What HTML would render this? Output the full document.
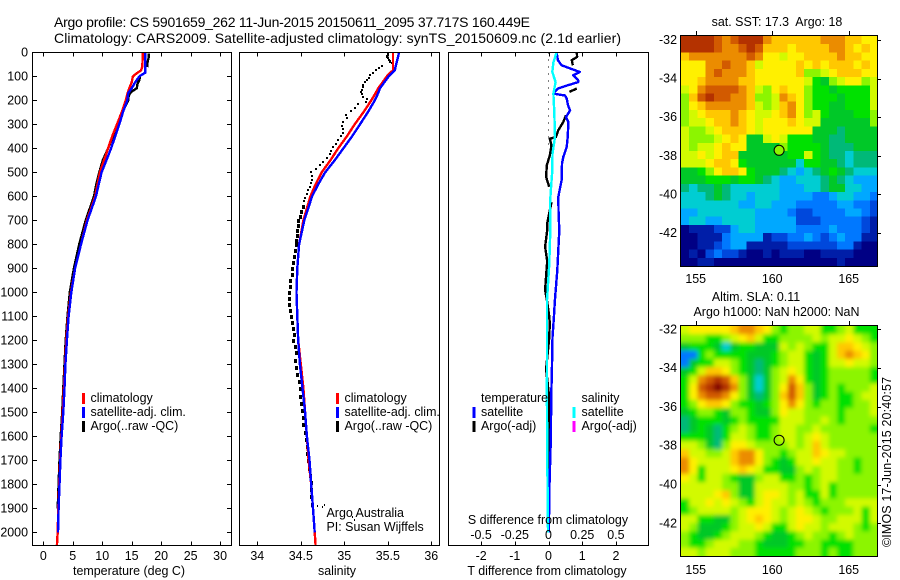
<!DOCTYPE html>
<html lang="en">
<head>
<meta charset="utf-8">
<title>Argo profile</title>
<style>
html,body{margin:0;padding:0;background:#fff;}
svg{display:block;}
text{font-family:"Liberation Sans",sans-serif;font-size:12.45px;fill:#000;}
.t14{font-size:14px;}
</style>
</head>
<body>
<svg id="chart" width="900" height="580" viewBox="0 0 900 580" xmlns="http://www.w3.org/2000/svg">
<defs>
<filter id="soft" x="-10%" y="-10%" width="120%" height="120%"><feGaussianBlur stdDeviation="2"/></filter>
<clipPath id="clipSst"><rect x="681" y="36" width="197" height="230"/></clipPath>
<clipPath id="clipSla"><rect x="681" y="326" width="197" height="230"/></clipPath>
</defs>
<text class="t14" x="54" y="27" textLength="476" lengthAdjust="spacing">Argo profile: CS 5901659_262 11-Jun-2015 20150611_2095 37.717S 160.449E</text>
<text class="t14" x="54" y="43" textLength="567" lengthAdjust="spacing">Climatology: CARS2009. Satellite-adjusted climatology: synTS_20150609.nc (2.1d earlier)</text>

<g id="marksT"></g>
<g id="marksS"></g>
<g id="marksD"></g>

<text x="129" y="575" text-anchor="middle">temperature (deg C)</text>
<text x="337" y="575" text-anchor="middle">salinity</text>
<text x="547" y="575" text-anchor="middle">T difference from climatology</text>
<text x="548" y="524" text-anchor="middle">S difference from climatology</text>

<text x="90.5" y="402">climatology</text>
<text x="90.5" y="416">satellite-adj. clim.</text>
<text x="90.5" y="430">Argo(..raw -QC)</text>
<text x="344.5" y="402">climatology</text>
<text x="344.5" y="416">satellite-adj. clim.</text>
<text x="344.5" y="430">Argo(..raw -QC)</text>
<text x="481" y="402">temperature</text>
<text x="581.5" y="402">salinity</text>
<text x="481" y="416">satellite</text>
<text x="481" y="430">Argo(-adj)</text>
<text x="581.5" y="416">satellite</text>
<text x="581.5" y="430">Argo(-adj)</text>
<text x="326.5" y="517">Argo Australia</text>
<text x="326.5" y="531">PI: Susan Wijffels</text>

<g id="mapSst"></g>
<g id="mapSla"></g>
<text x="777" y="26" text-anchor="middle">sat. SST: 17.3&#160; Argo: 18</text>
<text x="756" y="301" text-anchor="middle">Altim. SLA: 0.11</text>
<text x="776.5" y="316" text-anchor="middle">Argo h1000: NaN h2000: NaN</text>
<text transform="translate(891 547) rotate(-90)" textLength="170">©IMOS 17-Jun-2015 20:40:57</text>
</svg>

<script>
// ---- profile data -------------------------------------------------------
const depthLevels = [0,30,60,75,85,100,125,150,170,200,250,300,350,400,450,500,550,600,700,800,900,1000,1100,1200,1300,1400,1500,1600,1700,1800,1900,2000,2055];
const climTemp = [16.9,16.85,16.8,16.6,16.0,15.2,15.0,14.6,14.3,14.0,13.3,12.5,11.7,11.0,10.3,9.6,9.2,8.8,7.4,6.4,5.4,4.7,4.2,3.9,3.7,3.5,3.3,3.05,2.85,2.7,2.55,2.45,2.3];
const satTemp = [17.3,17.3,17.3,17.3,17.3,16.3,15.6,15.0,14.4,14.25,13.5,12.9,12.2,11.5,10.7,9.9,9.4,8.95,7.5,6.4,5.4,4.75,4.3,4.0,3.75,3.6,3.4,3.1,2.9,2.75,2.6,2.5,null];
const climSal = [35.56,35.56,35.56,35.56,35.53,35.49,35.44,35.39,35.36,35.31,35.22,35.12,35.03,34.93,34.84,34.74,34.67,34.61,34.53,34.48,34.46,34.45,34.46,34.47,34.50,34.53,34.55,34.57,34.59,34.62,34.64,34.66,34.67];
const satSal = [35.63,35.61,35.59,35.58,35.55,35.51,35.46,35.41,35.39,35.35,35.27,35.18,35.09,34.99,34.89,34.78,34.70,34.63,34.54,34.48,34.46,34.45,34.46,34.47,34.49,34.52,34.55,34.57,34.60,34.62,34.64,34.66,null];

const argoTempDepth = [4,20,40,62,75,100,115,130,150,165,180,200,250,300,350,400,450,500,550,600,700,800,900,1000,1100,1200,1300,1400,1500,1600,1700,1800,1900];
const argoTemp = [17.9,17.9,17.7,17.65,null,16.4,16.3,16.0,15.85,14.9,14.5,14.4,13.4,12.7,11.8,11.0,10.1,9.5,9.0,8.6,7.2,6.1,5.2,4.5,4.1,3.8,3.6,3.4,3.2,2.95,2.75,2.6,2.45];

const argoSalDepth = [5,10,15,20,25,30,35,40,45,58,65,75,85,95,105,115,125,135,145,155,165,175,185,195,205,215,230,245,260,275,290,305,320,335,350,365,380,395,410,425,440,455,470,485,500,515,530,545,560,575,590,605,620,640,660,680,700,720,740,760,780,800,825,850,875,900,925,950,975,1000,1025,1050,1075,1100,1125,1150,1175,1200,1225,1250,1280,1310,1340,1370,1400,1430,1460,1490,1520,1550,1580,1610,1640,1670,1700,1730,1760,1790,1820,1850,1880,1890,1893,1888,1935,1950];
const argoSal = [35.50,35.50,35.49,35.49,35.50,35.51,35.52,35.53,35.55,35.43,35.40,35.36,35.33,35.30,35.28,35.26,35.24,35.22,35.21,35.20,35.19,35.20,35.22,35.26,35.25,35.16,35.12,35.08,35.02,35.03,34.98,34.97,34.98,34.99,34.96,34.93,34.90,34.87,34.85,34.83,34.80,34.76,34.72,34.67,34.62,34.63,34.63,34.62,34.60,34.58,34.57,34.55,34.54,34.52,34.50,34.49,34.47,34.47,34.46,34.46,34.45,34.44,34.43,34.42,34.41,34.40,34.40,34.38,34.38,34.37,34.37,34.37,34.38,34.39,34.40,34.41,34.42,34.41,34.43,34.44,34.43,34.44,34.46,34.48,34.49,34.49,34.50,34.51,34.52,34.53,34.55,34.56,34.57,34.57,34.58,34.59,34.60,34.62,34.62,34.62,34.63,34.70,34.75,34.78,35.10,35.12];

const satDiffDepth = [0,33,54,82,96,117,124,137,151,172,180,192,221,242,270,290,353,395,436,464,533,603,672,742,908,1033,1104,1187,1325,1437,1600,1800,2000];
const satTempDiff = [0.24,0.28,0.39,0.93,0.73,0.88,0.88,0.58,0.28,0.14,0.49,0.54,0.58,0.64,0.52,0.59,0.57,0.54,0.44,0.40,0.39,0.29,0.30,0.32,0.26,0.19,0.16,0.12,0.10,0.08,0.07,0.03,0.01];

const argoDiffDepth = [0,19,33,54,100,151,165,200,262,290,325,353,360,388,429,471,519,561,600,624,672,713,742,810,870,990,1030,1100,1130,1190,1320,1437,1700,1900];
const argoTempDiff = [0.84,0.85,0.69,0.72,null,0.84,0.62,null,0.52,0.44,0.29,0.22,0.04,0.09,0.04,-0.05,-0.07,0.02,null,0.09,0.02,-0.04,-0.04,-0.10,-0.04,-0.10,-0.05,0.02,0.04,0.02,-0.07,0.02,0.0,0.0];

const salDiffDepth = [0,42,82,124,172,250,353,422,492,561,631,742,880,1033,1300,1437,1700,2000];
const satSalDiff = [0.060,0.036,0.028,0.053,0.036,0.043,0.048,0.030,0.028,0.019,0.011,0.013,0.006,-0.011,-0.011,-0.012,-0.009,-0.004];

// ---- axis tick labels ---------------------------------------------------
const depthTicks = [0,100,200,300,400,500,600,700,800,900,1000,1100,1200,1300,1400,1500,1600,1700,1800,1900,2000];
const tempTicks = [0,5,10,15,20,25,30];
const salTicks = [34,34.5,35,35.5,36];
const tDiffTicks = [-2,-1,0,1,2];
const sDiffTicks = [-0.5,-0.25,0,0.25,0.5];
const lonTicks = [155,160,165];
const latTicks = [-32,-34,-36,-38,-40,-42];
const argoLon = [160.449];
const argoLat = [-37.717];
const argoSurfaceLevel = [9];

// ---- map data: colour level per cell, north to south, west to east -----
const sstLevels = [
[15,15,15,15,14,13,14,15,15,15,13,12,12,12,12,12,12,13,13,13,12,12,11,11],
[15,15,15,15,14,13,13,14,15,14,12,12,12,11,12,12,12,12,13,13,12,11,12,11],
[12,13,13,13,13,13,13,13,14,13,11,11,10,11,11,12,12,12,12,13,12,12,11,11],
[11,11,11,13,13,14,13,13,12,10,11,11,11,11,12,11,12,11,12,12,12,11,12,11],
[11,11,11,13,14,13,13,13,12,11,11,11,11,11,12,9,9,10,11,12,12,12,11,11],
[11,11,12,13,13,13,13,12,12,11,11,11,11,11,11,10,8,7,9,10,11,11,9,10],
[10,11,13,14,14,14,14,13,12,10,9,11,12,11,11,9,8,8,7,8,8,8,8,10],
[9,12,14,15,14,14,13,13,12,9,9,10,13,12,11,9,8,8,8,7,8,8,8,10],
[9,11,12,13,13,13,13,13,12,10,9,10,12,13,11,9,8,8,7,7,8,8,8,10],
[9,10,11,12,12,12,13,12,11,10,10,11,12,13,11,9,10,8,7,7,7,8,8,9],
[9,10,10,11,12,12,13,12,11,10,11,11,11,12,11,10,10,7,7,7,7,7,7,9],
[10,9,9,10,11,12,12,12,11,10,11,11,11,11,11,11,7,7,7,6,7,7,7,7],
[10,9,9,9,10,11,12,11,7,7,10,11,10,8,8,8,7,7,6,6,7,7,7,7],
[10,9,10,10,11,12,11,11,7,7,7,7,9,8,8,8,8,7,6,6,6,7,7,7],
[10,10,11,10,11,12,12,7,7,7,7,7,7,8,8,10,8,7,6,6,5,6,6,6],
[10,10,10,11,12,12,11,8,7,7,7,7,7,7,5,8,8,7,7,6,5,6,6,6],
[7,7,8,9,11,12,12,11,8,7,7,7,6,5,4,5,6,7,8,7,6,5,5,5],
[7,7,7,8,8,8,7,8,8,7,6,5,4,4,5,5,5,6,7,6,5,4,4,4],
[6,5,6,6,7,6,5,5,5,5,5,5,4,4,4,5,5,6,7,7,5,5,4,4],
[5,5,5,6,7,6,5,5,4,5,5,5,4,4,4,4,3,3,4,5,5,4,4,3],
[5,5,5,5,5,5,5,4,4,5,5,4,4,4,3,3,3,3,3,4,4,3,3,2],
[4,4,5,5,5,5,5,5,5,4,4,4,4,3,2,2,3,3,3,3,4,4,3,2],
[4,5,5,4,4,5,5,5,5,4,4,4,4,4,2,2,2,3,3,3,3,3,2,1],
[0,1,1,1,2,2,4,5,5,4,4,4,4,4,3,3,3,3,4,3,3,3,2,1],
[0,0,1,1,1,3,4,4,4,4,1,2,2,3,3,4,3,2,3,4,3,3,1,1],
[0,0,1,1,2,3,4,4,1,1,1,1,1,2,2,2,2,2,2,3,3,1,0,0],
[0,1,0,2,3,2,2,1,0,0,1,0,1,1,1,0,0,1,1,1,1,0,0,0],
[0,0,1,1,0,0,0,0,0,0,0,0,0,0,0,0,0,0,0,1,0,0,0,0]
];
const slaLevels = [
[10,11,11,11,11,11,12,13,13,12,11,9,8,9,9,10,10,8,8,9,10,8,8,8],
[9,9,9,8,8,9,10,11,12,10,8,8,9,9,9,9,10,9,10,10,11,10,9,8],
[7,8,8,8,7,5,7,8,8,7,7,7,10,9,10,9,8,8,10,12,12,11,10,9],
[3,3,8,9,8,8,8,8,7,7,7,8,9,10,10,8,7,8,10,12,13,12,11,9],
[3,7,8,8,10,10,9,8,7,6,7,8,9,10,10,8,7,8,10,10,11,10,10,9],
[7,8,10,12,12,11,9,8,7,6,7,9,10,11,10,8,7,8,9,9,9,9,9,8],
[8,10,13,14,15,14,12,9,7,5,7,9,10,13,11,8,7,8,9,9,9,9,9,8],
[8,11,14,15,16,15,13,9,7,5,7,9,11,14,12,9,7,8,9,8,9,9,9,10],
[8,11,13,14,14,13,11,9,7,6,7,9,12,14,12,9,7,8,9,8,8,9,10,10],
[8,9,11,12,12,11,9,8,8,7,8,9,11,13,11,9,8,9,9,8,8,9,9,10],
[7,8,9,9,8,7,9,9,8,7,7,9,11,10,10,9,9,9,9,8,9,9,9,10],
[6,7,8,8,8,7,8,9,8,8,8,8,10,10,10,9,9,10,9,8,9,9,9,9],
[6,7,8,7,6,8,9,10,9,8,8,9,10,10,9,9,10,9,9,9,9,9,9,8],
[8,8,8,7,6,8,10,10,9,8,8,9,10,10,9,10,11,10,9,9,9,9,9,9],
[10,10,9,7,6,9,11,11,10,9,9,9,9,10,9,10,12,10,9,9,9,9,9,9],
[12,10,10,9,9,10,12,13,13,11,9,9,8,9,10,10,12,11,10,10,9,9,9,9],
[13,11,10,10,10,10,12,13,13,11,9,8,7,8,10,10,11,10,10,9,9,8,9,9],
[13,11,8,10,10,10,11,12,11,10,8,8,7,7,9,10,9,10,10,9,9,8,9,9],
[11,10,8,10,10,9,8,7,7,9,10,10,8,8,9,8,9,10,10,9,9,9,9,9],
[10,10,10,10,10,9,9,7,7,10,10,10,10,9,9,8,9,10,8,9,9,9,9,9],
[10,10,10,10,11,12,9,7,7,10,11,11,10,9,10,8,8,10,8,9,9,9,9,9],
[8,10,10,11,10,11,10,9,8,10,11,10,10,9,10,9,8,9,9,9,10,10,10,10],
[8,9,10,10,10,10,9,10,11,11,11,10,9,10,11,10,9,8,9,9,9,10,8,10],
[10,10,8,8,7,7,9,10,11,12,11,10,9,10,11,11,10,9,9,10,10,10,8,10],
[10,9,7,7,7,8,9,10,10,11,10,8,8,10,11,10,10,9,10,10,10,9,8,9],
[9,8,7,7,8,9,10,10,10,9,8,7,7,8,9,10,9,9,8,9,10,9,9,9],
[9,8,8,9,10,10,10,9,9,8,7,7,7,8,8,9,9,8,8,8,8,9,9,9],
[10,10,9,10,10,10,9,9,9,8,8,8,8,8,9,9,9,8,9,8,8,9,9,9]
];
const levelColors = ["#000084","#001ea8","#0048dc","#0078ff","#00a8ff","#00cdd2","#00b978","#00c828","#00e100","#8cf500","#d2fa00","#fff000","#ffc800","#eb8c00","#d25a00","#b43200","#820000"];

// ---- axis functions -----------------------------------------------------
const PANEL_TOP = 52.5, PANEL_BOTTOM = 545.5;
function yDepth(d){ return 52.3 + 0.24 * d; }
function xTemp(t){ return 43.3 + 5.893 * t; }
function xSal(s){ return 257.3 + 87 * (s - 34); }
function xTDiff(v){ return 548.5 + 33.7 * v; }
function xSDiff(v){ return 548.5 + 134.8 * v; }
function xLon(lon){ return 695.7 + 15.3 * (lon - 155); }
function ySstLat(lat){ return 40 + 19.3 * (-32 - lat); }
function ySlaLat(lat){ return 329.3 + 19.4 * (-32 - lat); }

const NS = "http://www.w3.org/2000/svg";
function mk(tag, attrs, parent){
  const el = document.createElementNS(NS, tag);
  for (const k in attrs) el.setAttribute(k, attrs[k]);
  parent.appendChild(el);
  return el;
}
function profilePath(depths, values, xf){
  let d = "", pen = false;
  for (let i = 0; i < depths.length; i++){
    const v = values[i];
    if (v === null || v === undefined){ pen = false; continue; }
    d += (pen ? "L" : "M") + xf(v).toFixed(1) + " " + yDepth(depths[i]).toFixed(1);
    pen = true;
  }
  return d;
}
function drawLine(parent, depths, values, xf, color, name){
  const el = mk("path", {d: profilePath(depths, values, xf), fill: "none", stroke: color, "stroke-width": 2.4, "stroke-linejoin": "round", "shape-rendering": "crispEdges"}, parent);
  
  
}
function drawFrame(parent, left, width, name){
  const el = mk("rect", {x: left, y: PANEL_TOP, width: width, height: PANEL_BOTTOM - PANEL_TOP, fill: "none", stroke: "#000", "stroke-width": 1, "shape-rendering": "crispEdges"}, parent);
  
  
}
function tickLine(parent, x1, y1, x2, y2){
  const el = mk("line", {x1: x1, y1: y1, x2: x2, y2: y2, stroke: "#000", "stroke-width": 1, "shape-rendering": "crispEdges"}, parent);
  
  
}
function tickText(parent, x, y, str, anchor){
  const el = mk("text", {x: x, y: y, "text-anchor": anchor}, parent);
  el.textContent = str;
  
  
}
function legendBar(parent, x, y, color){
  const el = mk("rect", {x: x, y: y, width: 3, height: 11, fill: color}, parent);
  
  
}
function xTicks(parent, ticks, xf, labelY, top, bottom){
  ticks.forEach(function(t){
    const x = Math.round(xf(t)) + 0.5;
    if (top) tickLine(parent, x, PANEL_TOP, x, PANEL_TOP + 4);
    if (bottom) tickLine(parent, x, PANEL_BOTTOM, x, PANEL_BOTTOM - 4);
    tickText(parent, xf(t), labelY, String(t), "middle");
  });
}

// ---- temperature panel --------------------------------------------------
const gT = document.getElementById("marksT");
drawLine(gT, argoTempDepth, argoTemp, xTemp, "#000", "argo-temperature-line");
drawLine(gT, depthLevels, climTemp, xTemp, "#ff0000", "climatology-temperature-line");
drawLine(gT, depthLevels, satTemp, xTemp, "#0000ff", "satellite-temperature-line");
drawFrame(gT, 32.5, 199, "temperature-plot-frame");
xTicks(gT, tempTicks, xTemp, 560, true, true);
depthTicks.forEach(function(d){
  const y = Math.round(yDepth(d)) + 0.5;
  tickLine(gT, 32.5, y, 37, y);
  tickLine(gT, 231.5, y, 227, y);
  tickText(gT, 28, yDepth(d) + 4, String(d), "end");
});
legendBar(gT, 82, 393, "#ff0000");
legendBar(gT, 82, 407, "#0000ff");
legendBar(gT, 82, 421, "#000");

// ---- salinity panel -----------------------------------------------------
const gS = document.getElementById("marksS");
argoSalDepth.forEach(function(d, i){
  const deep = d > 620 && d < 1885;
  const stray = d >= 1885;
  const dot = mk("rect", {x: Math.round(xSal(argoSal[i]) - 1), y: Math.round(yDepth(d) - 1), width: stray ? 1 : (deep ? 3 : 2), height: stray ? 2 : (deep ? 4 : 2), fill: "#000"}, gS);
  
  
});
drawLine(gS, depthLevels, climSal, xSal, "#ff0000", "climatology-salinity-line");
drawLine(gS, depthLevels, satSal, xSal, "#0000ff", "satellite-salinity-line");
drawFrame(gS, 239.5, 200, "salinity-plot-frame");
xTicks(gS, salTicks, xSal, 560, true, true);
legendBar(gS, 336, 393, "#ff0000");
legendBar(gS, 336, 407, "#0000ff");
legendBar(gS, 336, 421, "#000");

// ---- difference panel ---------------------------------------------------
const gD = document.getElementById("marksD");
const zero = mk("line", {x1: 548.5, y1: PANEL_TOP, x2: 548.5, y2: 150, stroke: "#000", "stroke-width": 1, "stroke-dasharray": "1 6", "shape-rendering": "crispEdges"}, gD);


drawLine(gD, argoDiffDepth, argoTempDiff, xTDiff, "#000", "argo-temperature-difference-line");
drawLine(gD, satDiffDepth, satTempDiff, xTDiff, "#0000ff", "satellite-temperature-difference-line");
drawLine(gD, salDiffDepth, satSalDiff, xSDiff, "#00ffff", "satellite-salinity-difference-line");
drawFrame(gD, 448.5, 200, "difference-plot-frame");
xTicks(gD, tDiffTicks, xTDiff, 560, false, true);
xTicks(gD, sDiffTicks, xSDiff, 539, true, false);
legendBar(gD, 472.5, 407, "#0000ff");
legendBar(gD, 472.5, 421, "#000");
legendBar(gD, 572.5, 407, "#00ffff");
legendBar(gD, 572.5, 421, "#ff00ff");

// ---- maps ---------------------------------------------------------------
function drawMap(parent, levels, top, height, clip, blur, yLat, labelY, frameName, cellName){
  const nR = levels.length, nC = levels[0].length;
  const left = 681, width = 197;
  const clipG = mk("g", {"clip-path": "url(#" + clip + ")"}, parent);
  
  
  const cells = mk("g", blur ? {filter: "url(#soft)"} : {"shape-rendering": "crispEdges"}, clipG);
  
  
  const pad = blur ? 12 : 0;
  const cw = width / nC, ch = height / nR;
  levels.forEach(function(row, r){
    row.forEach(function(v, c){
      const x0 = left + c * cw - (c === 0 ? pad : 0);
      const y0 = top + r * ch - (r === 0 ? pad : 0);
      const x1 = left + (c + 1) * cw + (c === nC - 1 ? pad : 0) + 0.5;
      const y1 = top + (r + 1) * ch + (r === nR - 1 ? pad : 0) + 0.5;
      const cell = mk("rect", {x: x0.toFixed(2), y: y0.toFixed(2), width: (x1 - x0).toFixed(2), height: (y1 - y0).toFixed(2), fill: levelColors[v]}, cells);
      
      
    });
  });
  const frame = mk("rect", {x: 680.5, y: top - 0.5, width: 197, height: height + 1, fill: "none", stroke: "#000", "stroke-width": 1, "shape-rendering": "crispEdges"}, parent);
  
  
  lonTicks.forEach(function(lon){
    const x = Math.round(xLon(lon)) + 0.5;
    tickLine(parent, x, top - 5, x, top);
    tickText(parent, xLon(lon), labelY, String(lon), "middle");
  });
  latTicks.forEach(function(lat){
    const y = Math.round(yLat(lat)) + 0.5;
    tickLine(parent, 877.5, y, 881, y);
    tickText(parent, 677, yLat(lat) + 4, String(lat), "end");
  });
}
const gSst = document.getElementById("mapSst");
drawMap(gSst, sstLevels, 36, 230, "clipSst", false, ySstLat, 283, "sst-map-frame", "sst-cell");
const sstMarker = mk("circle", {cx: xLon(argoLon[0]).toFixed(1), cy: ySstLat(argoLat[0]).toFixed(1), r: 5, fill: levelColors[argoSurfaceLevel[0]], stroke: "#000", "stroke-width": 1}, gSst);



const gSla = document.getElementById("mapSla");
drawMap(gSla, slaLevels, 326, 230, "clipSla", true, ySlaLat, 574, "sla-map-frame", "sla-cell");
const slaMarker = mk("circle", {cx: xLon(argoLon[0]).toFixed(1), cy: ySlaLat(argoLat[0]).toFixed(1), r: 5, fill: "none", stroke: "#000", "stroke-width": 1}, gSla);


</script>
</body>
</html>
